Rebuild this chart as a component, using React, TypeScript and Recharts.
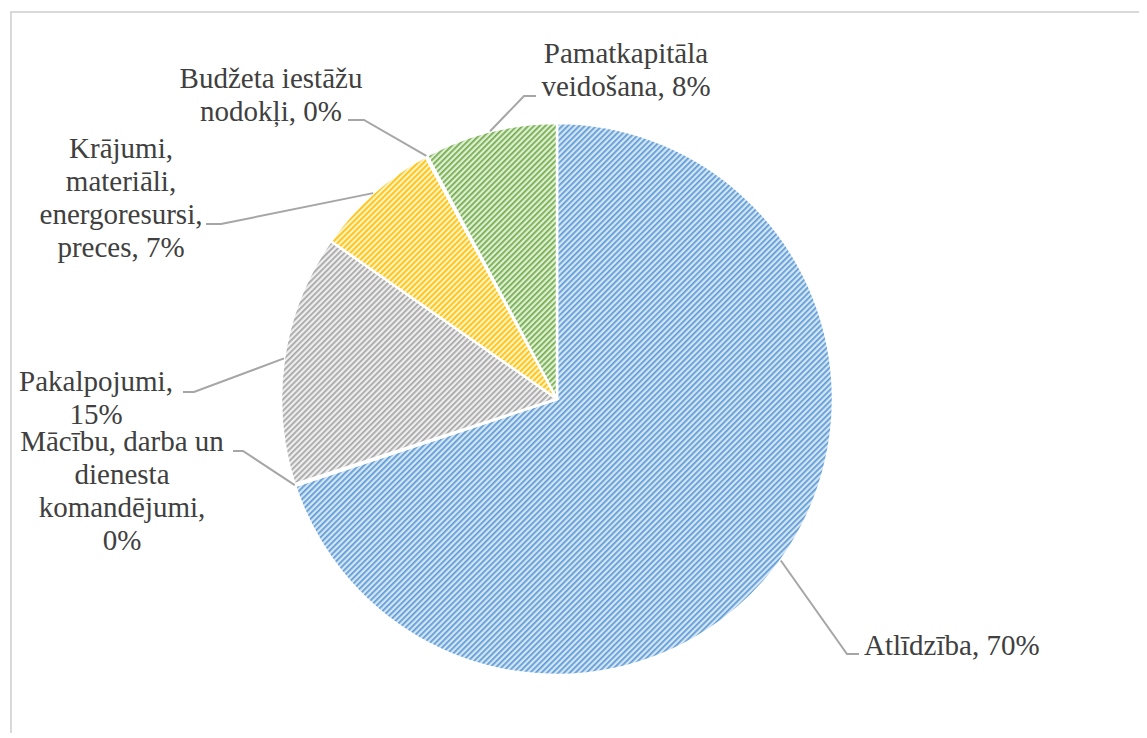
import { Pie, PieChart, Cell } from 'recharts';

// #region Data
const categories = [
  'Atlīdzība',
  'Mācību, darba un dienesta komandējumi',
  'Pakalpojumi',
  'Krājumi, materiāli, energoresursi, preces',
  'Budžeta iestāžu nodokļi',
  'Pamatkapitāla veidošana',
];
const shares = [69.9, 0.1, 14.7, 7.4, 0.1, 7.8];
// #endregion

const data = categories.map((name, i) => ({ name, value: shares[i] }));

// Excel style hatched fills: [stripe colour, background colour]
const HATCH = [
  ['#5b9bd5', '#d4e4f5'],
  ['#ed7d31', '#fbe3d4'],
  ['#a5a5a5', '#eeeeee'],
  ['#ffc000', '#fff2c6'],
  ['#4472c4', '#dae3f3'],
  ['#70ad47', '#e0eed6'],
];

// label placement relative to the pie centre: elbow of the leader, its short horizontal end,
// text anchor and the first baseline, plus how the name wraps
const LABELS = [
  { elbow: [290, 255], end: [302, 255], tx: 307, ty: 256, anchor: 'start', lines: ['Atlīdzība,'], pctNewLine: false },
  { elbow: [-314, 52], end: [-324, 52], tx: -435, ty: 52, anchor: 'middle', lines: ['Mācību, darba un', 'dienesta', 'komandējumi,'], pctNewLine: true },
  { elbow: [-363, -7], end: [-374, -7], tx: -461, ty: -8, anchor: 'middle', lines: ['Pakalpojumi,'], pctNewLine: true },
  { elbow: [-336, -175], end: [-351, -175], tx: -436, ty: -241, anchor: 'middle', lines: ['Krājumi,', 'materiāli,', 'energoresursi,', 'preces,'], pctNewLine: false },
  { elbow: [-193, -279], end: [-209, -279], tx: -286, ty: -311, anchor: 'middle', lines: ['Budžeta iestāžu', 'nodokļi,'], pctNewLine: false },
  { elbow: [-33, -303], end: [-21, -303], tx: 69, ty: -336, anchor: 'middle', lines: ['Pamatkapitāla', 'veidošana,'], pctNewLine: false },
];

const RAD = Math.PI / 180;
const LINE_H = 33;

function renderLabel(props: any) {
  const { cx, cy, midAngle, outerRadius, percent, index } = props;
  const l = LABELS[index];
  const sx = cx + outerRadius * Math.cos(-midAngle * RAD);
  const sy = cy + outerRadius * Math.sin(-midAngle * RAD);
  const pct = `${Math.round(percent * 100)}%`;
  const lines = l.pctNewLine
    ? [...l.lines, pct]
    : [...l.lines.slice(0, -1), `${l.lines[l.lines.length - 1]} ${pct}`];
  const tx = cx + l.tx;
  return (
    <g key={`lbl-${index}`}>
      <polyline
        points={`${sx},${sy} ${cx + l.elbow[0]},${cy + l.elbow[1]} ${cx + l.end[0]},${cy + l.end[1]}`}
        fill="none"
        stroke="#a6a6a6"
        strokeWidth={2}
      />
      <text
        x={tx}
        y={cy + l.ty}
        textAnchor={l.anchor}
        fill="#404040"
        fontFamily="'Liberation Serif', 'Times New Roman', serif"
        fontSize={29}
      >
        {lines.map((t, i) => (
          <tspan key={i} x={tx} dy={i === 0 ? 0 : LINE_H}>
            {t}
          </tspan>
        ))}
      </text>
    </g>
  );
}

export default function App() {
  return (
    <div style={{ position: 'relative' }}>
      <svg width={0} height={0} style={{ position: 'absolute' }}>
        <defs>
          {HATCH.map(([stripe, bg], i) => (
            <pattern
              key={i}
              id={`hatch-${i}`}
              width={4}
              height={4}
              patternUnits="userSpaceOnUse"
              patternTransform="rotate(45)"
            >
              <rect width={4} height={4} fill={bg} />
              <rect width={1.7} height={4} fill={stripe} />
            </pattern>
          ))}
        </defs>
      </svg>
      <div
        style={{
          marginLeft: 2,
          marginTop: 3,
          borderTop: '2px solid #d9d9d9',
          borderLeft: '2px solid #d9d9d9',
          width: 1130,
          height: 720,
        }}
      >
        <PieChart width={1130} height={720}>
          <Pie
            data={data}
            dataKey="value"
            nameKey="name"
            cx={540}
            cy={381}
            outerRadius={276}
            startAngle={90}
            endAngle={-270}
            stroke="#ffffff"
            strokeWidth={2.5}
            label={renderLabel}
            labelLine={false}
            isAnimationActive={false}
          >
            {data.map((d, i) => (
              <Cell key={d.name} fill={`url(#hatch-${i})`} />
            ))}
          </Pie>
        </PieChart>
      </div>
    </div>
  );
}
